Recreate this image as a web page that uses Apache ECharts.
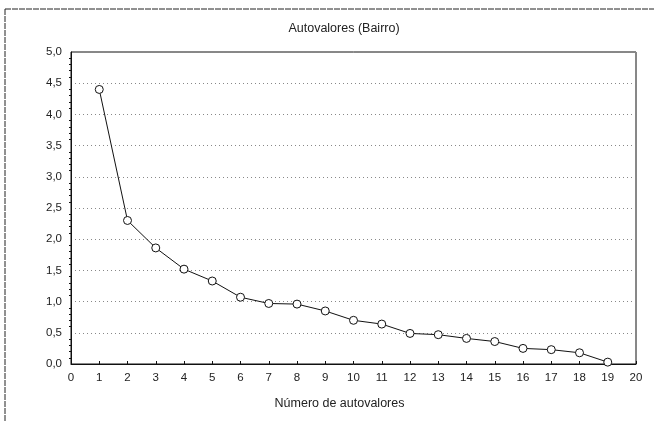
<!DOCTYPE html>
<html>
<head>
<meta charset="utf-8">
<script src="https://cdn.jsdelivr.net/npm/echarts@6/dist/echarts.min.js"></script>
<style>html,body{margin:0;padding:0;background:#fff;}#c{width:654px;height:421px;}</style>
</head>
<body>
<div id="c"></div>
<script>
const componentNumbers = [1,2,3,4,5,6,7,8,9,10,11,12,13,14,15,16,17,18,19];
const eigenvalues = [4.40,2.30,1.86,1.52,1.33,1.07,0.97,0.96,0.85,0.70,0.64,0.49,0.47,0.41,0.36,0.25,0.23,0.18,0.03];
const titleText = 'Autovalores (Bairro)';
const xAxisTitle = 'Número de autovalores';

const chart = echarts.init(document.getElementById('c'), null, {renderer:'canvas'});
const font = 'Liberation Sans, Arial, sans-serif';
chart.setOption({
  animation:false,
  backgroundColor:'#fff',
  title:{text:titleText, left:339, top:17, textAlign:'center',
    textStyle:{fontFamily:font,fontSize:12.5,fontWeight:'normal',color:'#222'}},
  grid:{left:71,right:18,top:52,bottom:57,show:true,borderColor:'#111',borderWidth:1,backgroundColor:'transparent'},
  xAxis:{type:'value',min:0,max:20,interval:1,
    name:xAxisTitle,nameLocation:'middle',nameGap:33,
    nameTextStyle:{fontFamily:font,fontSize:12.5,color:'#222',padding:[0,28,0,0]},
    axisLine:{show:true,lineStyle:{color:'#111',width:1}},
    axisTick:{show:true,inside:true,length:3,lineStyle:{color:'#111'}},
    axisLabel:{fontFamily:font,fontSize:11.5,color:'#222',margin:8},
    splitLine:{show:false}},
  yAxis:{type:'value',min:0,max:5,interval:0.5,
    axisLine:{show:true,lineStyle:{color:'#111',width:1}},
    axisTick:{show:false},
    minorTick:{show:true,splitNumber:5,length:2,lineStyle:{color:'#111'}},
    axisLabel:{fontFamily:font,fontSize:11.5,color:'#222',margin:9,
      formatter:v=>v.toFixed(1).replace('.',',')},
    splitLine:{show:true,lineStyle:{color:'#888',type:[1,3],width:1}}},
  graphic:[
    {type:'line',shape:{x1:5,y1:9,x2:654,y2:9},style:{stroke:'#222',lineWidth:1,lineDash:[6,1]}},
    {type:'line',shape:{x1:5,y1:9,x2:5,y2:421},style:{stroke:'#222',lineWidth:1,lineDash:[6,1]}}
  ],
  series:[{type:'line',data:componentNumbers.map((x,i)=>[x,eigenvalues[i]]),
    symbol:'circle',symbolSize:8,showAllSymbol:true,
    itemStyle:{color:'#fff',borderColor:'#111',borderWidth:1},
    lineStyle:{color:'#111',width:1}}]
});
</script>
</body>
</html>
